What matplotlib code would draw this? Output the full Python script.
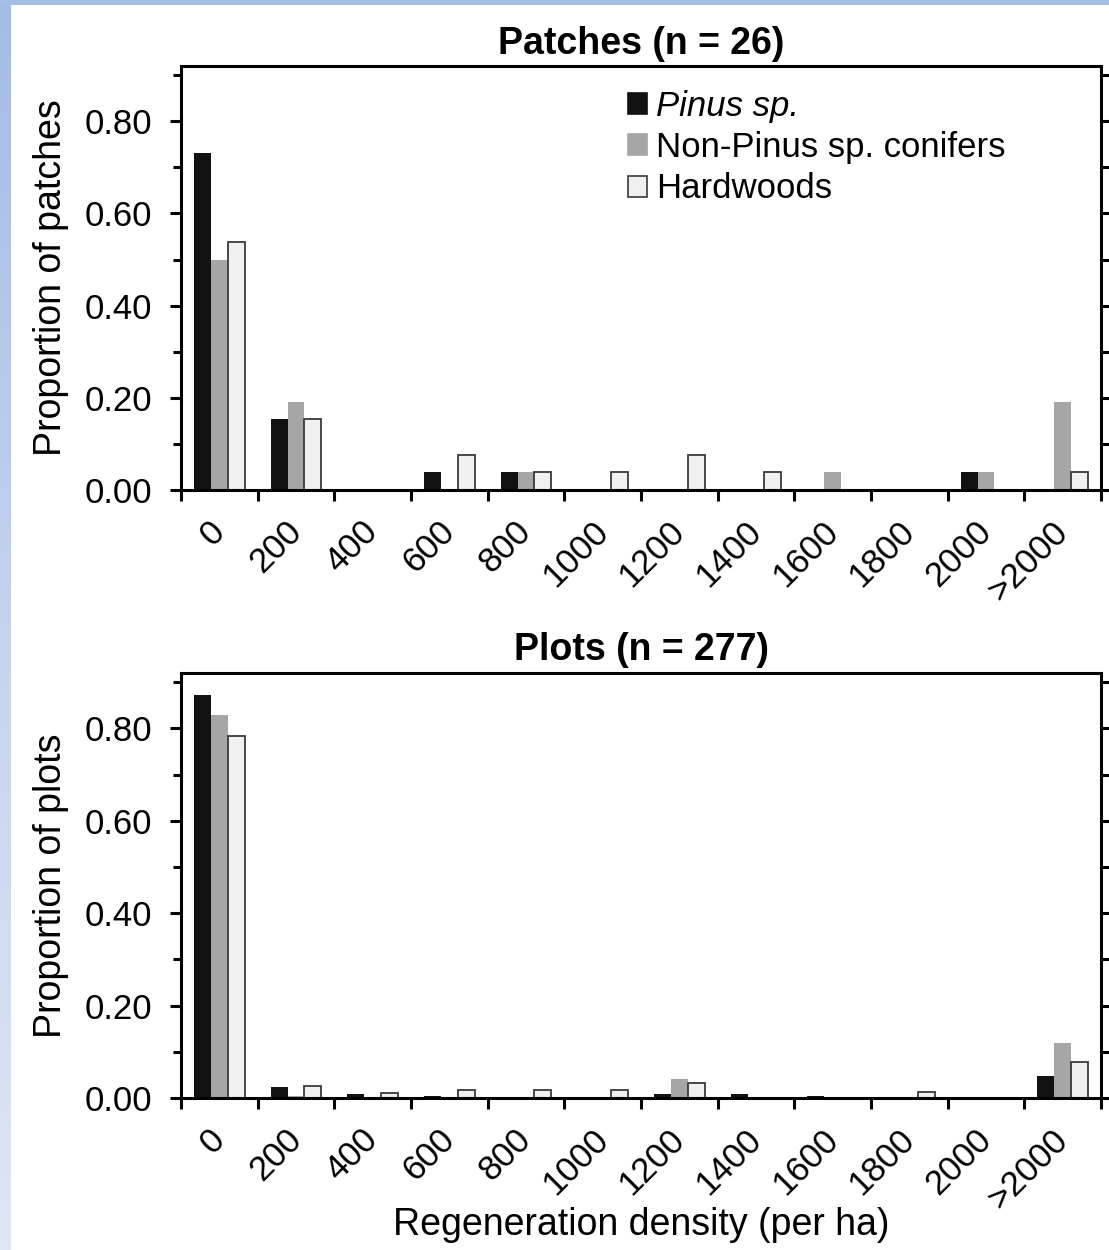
import numpy as np
import matplotlib
matplotlib.use("Agg")
import matplotlib.pyplot as plt
from matplotlib.patches import Patch
from matplotlib.ticker import MultipleLocator, FormatStrFormatter
from matplotlib.colors import LinearSegmentedColormap
import matplotlib.transforms as mtrans

plt.rcParams["font.family"] = ["Liberation Sans", "DejaVu Sans"]

CATS = ["0", "200", "400", "600", "800", "1000", "1200", "1400",
        "1600", "1800", "2000", ">2000"]
SERIES = ["Pinus sp.", "Non-Pinus sp. conifers", "Hardwoods"]

# Patches (n = 26): proportions
patch_pinus    = [0.731, 0.154, 0.0, 0.038, 0.038, 0.0, 0.0, 0.0, 0.0, 0.0, 0.038, 0.0]
patch_nonpinus = [0.500, 0.192, 0.0, 0.0, 0.038, 0.0, 0.0, 0.0, 0.038, 0.0, 0.038, 0.192]
patch_hardwood = [0.538, 0.154, 0.0, 0.077, 0.038, 0.038, 0.077, 0.038, 0.0, 0.0, 0.0, 0.038]

# Plots (n = 277)
plot_pinus    = [0.872, 0.023, 0.008, 0.004, 0.0, 0.0, 0.009, 0.009, 0.004, 0.0, 0.0, 0.048]
plot_nonpinus = [0.829, 0.005, 0.0, 0.0, 0.0, 0.0, 0.041, 0.0, 0.0, 0.002, 0.0, 0.118]
plot_hardwood = [0.784, 0.025, 0.010, 0.018, 0.018, 0.018, 0.032, 0.0, 0.0, 0.014, 0.0, 0.079]

COLORS = ["#121212", "#a6a6a6", "#f0f0f0"]
EDGES  = ["none", "none", "#3a3a3a"]
BW = 0.22

fig = plt.figure(figsize=(11.09, 12.5), dpi=100)

# light blue frame on the left and top edges
bg = fig.add_axes([0, 0, 11 / 1109, 1], zorder=-5)
cm = LinearSegmentedColormap.from_list("edge", ["#a2bce6", "#c4d3ee", "#dfe6f4"])
bg.imshow(np.linspace(0, 1, 256)[:, None], aspect="auto", cmap=cm)
bg.set_axis_off()
top = fig.add_axes([0, 1 - 5 / 1250, 1, 5 / 1250], zorder=-5)
top.set_facecolor("#a4bee6")
top.set_xticks([]); top.set_yticks([])
for s in top.spines.values():
    s.set_visible(False)

ax1 = fig.add_axes([0.1632, 0.608, 0.8296, 0.3392])
ax2 = fig.add_axes([0.1632, 0.1216, 0.8296, 0.340])

def panel(ax, vals, title, ylabel):
    x = np.arange(len(CATS))
    for k, v in enumerate(vals):
        ax.bar(x + (k - 1) * BW, v, BW, color=COLORS[k], edgecolor=EDGES[k],
               linewidth=1.3, zorder=2)
    ax.set_xlim(-0.5, len(CATS) - 0.5)
    ax.set_ylim(0, 0.92)
    ax.yaxis.set_major_locator(MultipleLocator(0.2))
    ax.yaxis.set_minor_locator(MultipleLocator(0.1))
    ax.yaxis.set_major_formatter(FormatStrFormatter("%.2f"))
    ax.set_xticks(np.arange(len(CATS) + 1) - 0.5)
    ax.set_xticklabels([])
    ax.set_xticks(x, CATS, minor=True)
    ax.tick_params(axis="x", which="major", direction="out", length=8, width=2.2,
                   top=False)
    ax.tick_params(axis="x", which="minor", length=0, labelsize=25, pad=18,
                   labelrotation=45)
    offs = mtrans.ScaledTranslation(12 / 100, 0, fig.dpi_scale_trans)
    for lab in ax.get_xticklabels(minor=True):
        lab.set_ha("right")
        lab.set_transform(lab.get_transform() + offs)
    ax.tick_params(axis="y", which="major", direction="out", length=8, width=2.2,
                   labelsize=25, pad=13, right=True)
    ax.tick_params(axis="y", which="minor", direction="out", length=5.5, width=2.2,
                   right=True)
    for s in ax.spines.values():
        s.set_linewidth(2.2)
    ax.set_title(title, fontsize=27, fontweight="bold", pad=9)
    ax.set_ylabel(ylabel, fontsize=27)
    ax.yaxis.set_label_coords(-0.122, 0.5)

panel(ax1, [patch_pinus, patch_nonpinus, patch_hardwood],
      "Patches (n = 26)", "Proportion of patches")
panel(ax2, [plot_pinus, plot_nonpinus, plot_hardwood],
      "Plots (n = 277)", "Proportion of plots")
ax2.set_xlabel("Regeneration density (per ha)", fontsize=27)
ax2.xaxis.set_label_coords(0.5, -0.257)

handles = [Patch(facecolor=COLORS[k], edgecolor=EDGES[k] if EDGES[k] != "none" else COLORS[k],
                 linewidth=1.2) for k in range(3)]
leg = ax1.legend(handles, SERIES, loc="upper left", bbox_to_anchor=(0.486, 0.944),
                 frameon=False, fontsize=25, handlelength=0.55, handleheight=0.55,
                 handletextpad=0.25, labelspacing=0.24, borderpad=0, borderaxespad=0)
leg.get_texts()[0].set_fontstyle("italic")

fig.savefig("out.png", dpi=100)
